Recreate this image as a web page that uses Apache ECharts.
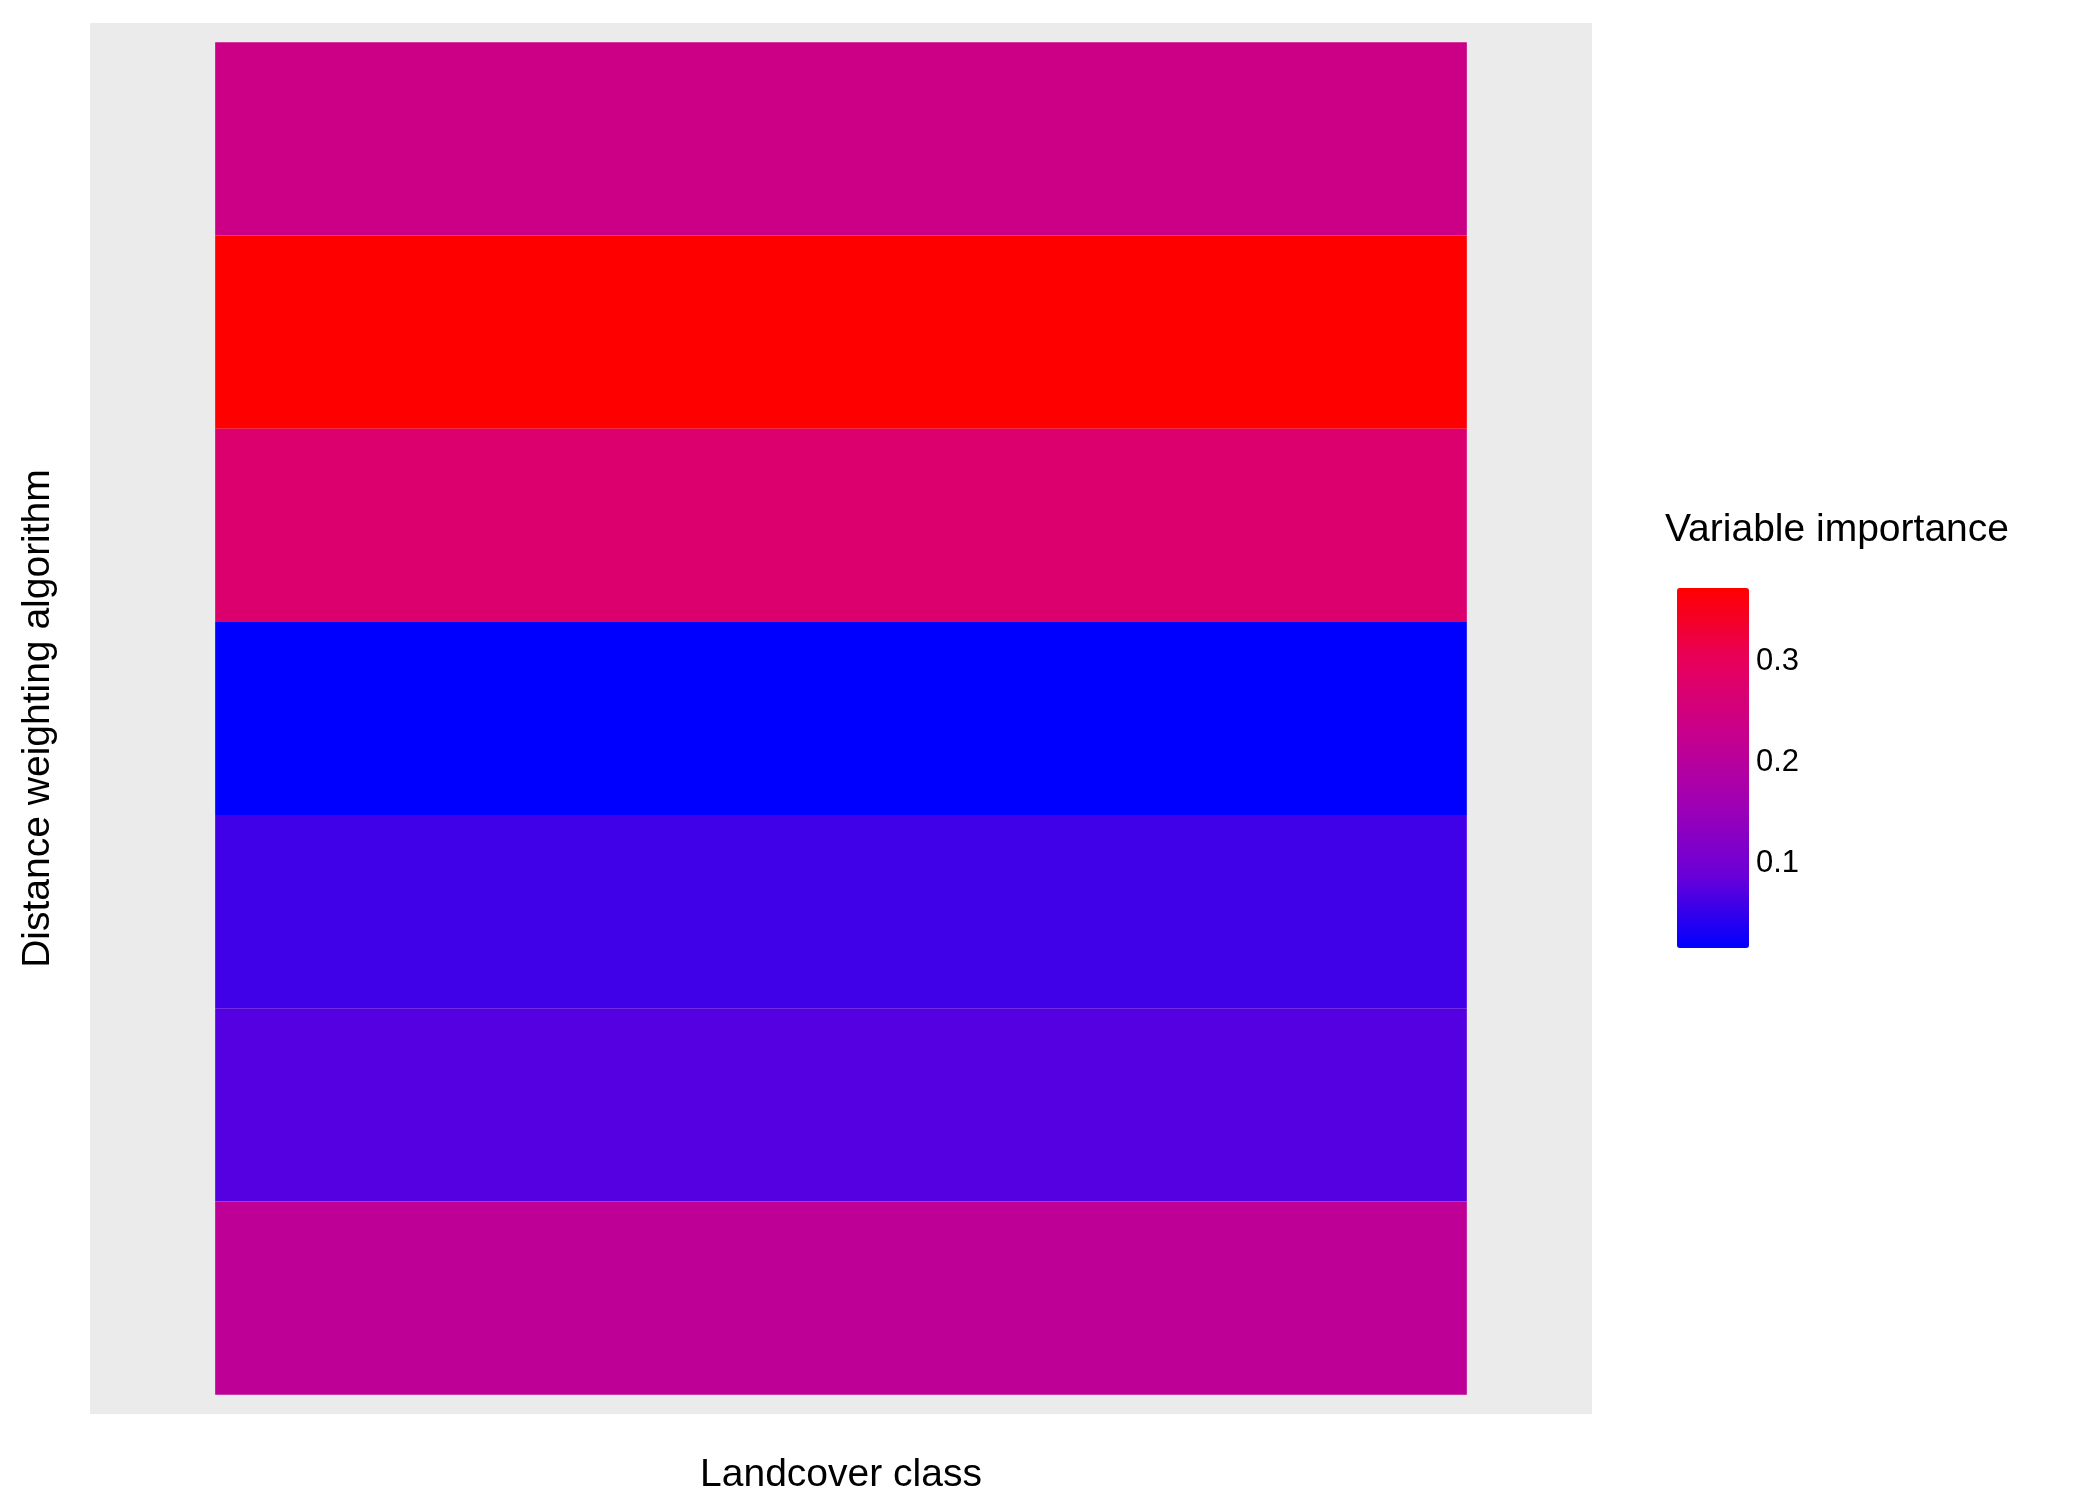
<!DOCTYPE html>
<html lang="en">
<head>
    <meta charset="UTF-8">
    <title>Variable importance</title>
    <script src="https://cdn.jsdelivr.net/npm/echarts@6/dist/echarts.min.js"></script>
    <style>
        html, body { margin: 0; background: #fff; }
        #chart { width: 2100px; height: 1500px; }
    </style>
</head>
<body>
    <div id="chart"></div>
    <script>
        // rows listed from top to bottom
        const landcover = ['class'];
        const importance = [0.252, 0.387, 0.287, 0.031, 0.074, 0.088, 0.227];
        const legendTicks = [0.1, 0.2, 0.3];
        const scaleMin = 0.031;
        const scaleMax = 0.387;

        const nRows = importance.length;
        const tileData = importance.map((v, i) => [0, nRows - 1 - i + 0.5, v]);
        const rowCenters = importance.map((v, i) => i + 0.5);

        const font = 'Liberation Sans, Arial, sans-serif';
        const chart = echarts.init(document.getElementById('chart'));
        chart.setOption({
            animation: false,
            grid: [
                { left: 90, top: 23, width: 1502, height: 1393, backgroundColor: '#EBEBEB', show: true, borderWidth: 0 },
                { left: 1662, top: 573, width: 72, height: 360, show: false }
            ],
            xAxis: [
                {
                    gridIndex: 0, type: 'value', min: -0.6, max: 0.6,
                    name: 'Landcover class', nameLocation: 'middle', nameGap: 42,
                    nameTextStyle: { fontFamily: font, fontSize: 39, color: '#000' },
                    axisLine: { show: false }, axisTick: { show: false },
                    axisLabel: { show: false }, splitLine: { show: false }
                },
                { gridIndex: 1, type: 'value', show: false }
            ],
            yAxis: [
                {
                    gridIndex: 0, type: 'value', min: -0.1, max: nRows + 0.1,
                    name: 'Distance weighting algorithm', nameLocation: 'middle', nameGap: 32,
                    nameTextStyle: { fontFamily: font, fontSize: 39, color: '#000' },
                    axisLine: { show: false }, axisTick: { show: false },
                    axisLabel: { show: false }, splitLine: { show: false }
                },
                {
                    gridIndex: 1, type: 'value', position: 'right', min: scaleMin, max: scaleMax,
                    axisLine: { show: false },
                    axisTick: { show: true, inside: true, length: 10, customValues: legendTicks, lineStyle: { color: '#fff', width: 2 } },
                    axisLabel: { show: true, customValues: legendTicks, inside: false, margin: 22, fontFamily: font, fontSize: 31, color: '#000' },
                    splitLine: { show: false },
                    z: 10
                }
            ],
            visualMap: {
                type: 'continuous', seriesIndex: 0, dimension: 2,
                min: scaleMin, max: scaleMax, calculable: false, showLabel: false,
                text: ['', ''], left: 1662, top: 573, itemWidth: 72, itemHeight: 360,
                inRange: { color: ['#0000FF', '#6A00D9', '#A000B4', '#C8008C', '#E8005A', '#FF0000'] },
                handleStyle: { opacity: 0 }, indicatorStyle: { opacity: 0 }
            },
            title: {
                text: 'Variable importance', left: 1660, top: 506,
                textStyle: { fontFamily: font, fontSize: 39, fontWeight: 'normal', color: '#000' }
            },
            series: [
                {
                    type: 'custom', xAxisIndex: 0, yAxisIndex: 0,
                    data: tileData,
                    renderItem: function (params, api) {
                        const p0 = api.coord([api.value(0) - 0.5, api.value(1) + 0.5]);
                        const p1 = api.coord([api.value(0) + 0.5, api.value(1) - 0.5]);
                        return {
                            type: 'rect',
                            shape: { x: p0[0], y: p0[1], width: p1[0] - p0[0], height: p1[1] - p0[1] },
                            style: { fill: api.visual('color') }
                        };
                    },
                    markLine: {
                        silent: true, symbol: 'none', label: { show: false }, z: -1,
                        lineStyle: { color: '#fff', width: 3, type: 'solid' },
                        data: rowCenters.map(y => ({ yAxis: y })).concat([{ xAxis: 0 }])
                    },
                    z: 2
                },
                {
                    type: 'line', xAxisIndex: 1, yAxisIndex: 1, data: [], silent: true
                }
            ]
        });
    </script>
</body>
</html>
